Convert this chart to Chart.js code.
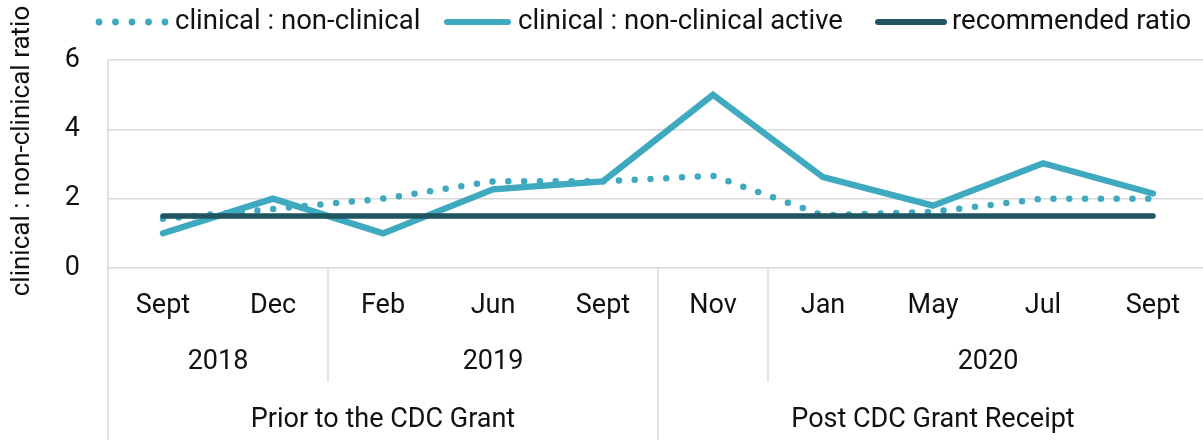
<!DOCTYPE html>
<html>
<head>
<meta charset="utf-8">
<script src="https://cdn.jsdelivr.net/npm/chart.js@4/dist/chart.umd.min.js"></script>
<style>
html,body{margin:0;padding:0;background:#fff;overflow:hidden;}
#wrap{position:relative;width:1208px;height:440px;}
</style>
</head>
<body>
<div id="wrap"><canvas id="c" width="1208" height="440"></canvas></div>
<script>
// ---- data ----
const months = ['Sept','Dec','Feb','Jun','Sept','Nov','Jan','May','Jul','Sept'];
const years = [
  {label:'2018', from:0, to:1},
  {label:'2019', from:2, to:4},
  {label:'', from:5, to:5},
  {label:'2020', from:6, to:9}
];
const periods = [
  {label:'Prior to the CDC Grant', from:0, to:4},
  {label:'Post CDC Grant Receipt', from:5, to:9}
];
const clinicalNonClinical = [1.42, 1.7, 2.0, 2.5, 2.5, 2.66, 1.52, 1.62, 2.0, 2.0];
const clinicalNonClinicalActive = [1.0, 2.0, 1.0, 2.27, 2.5, 5.0, 2.62, 1.8, 3.02, 2.15];
const recommendedRatio = [1.5, 1.5, 1.5, 1.5, 1.5, 1.5, 1.5, 1.5, 1.5, 1.5];
const yTicks = [0, 2, 4, 6];
const seriesNames = ['clinical : non-clinical', 'clinical : non-clinical active', 'recommended ratio'];
const yTitle = 'clinical : non-clinical ratio';

const TEAL = '#3FAABF';
const DARK = '#1E5561';
const GRID = '#D9D9D9';
const FONT = 'Roboto, sans-serif';
const TXT = '#111';

const custom = {
  id: 'custom',
  afterDraw(chart) {
    const ctx = chart.ctx;
    const x = chart.scales.x;
    const ca = chart.chartArea;
    const H = chart.height;
    const w = x.getPixelForValue(1) - x.getPixelForValue(0);
    const edge = i => x.getPixelForValue(i) - w / 2;
    ctx.save();
    ctx.strokeStyle = GRID;
    ctx.lineWidth = 1.5;
    ctx.beginPath(); ctx.moveTo(ca.left, ca.top); ctx.lineTo(ca.left, H); ctx.stroke();
    const yearBottom = 382;
    years.forEach((g, k) => {
      if (k === 0) return;
      const ex = edge(g.from);
      const isPeriod = periods.some(p => p.from === g.from);
      ctx.beginPath(); ctx.moveTo(ex, ca.bottom); ctx.lineTo(ex, isPeriod ? H : yearBottom); ctx.stroke();
    });
    ctx.fillStyle = TXT;
    ctx.textAlign = 'center';
    ctx.textBaseline = 'middle';
    ctx.font = '27px ' + FONT;
    months.forEach((m, i) => ctx.fillText(m, x.getPixelForValue(i), 306));
    years.forEach(g => { if (g.label) ctx.fillText(g.label, (edge(g.from) + edge(g.to + 1)) / 2, 362); });
    periods.forEach(g => ctx.fillText(g.label, (edge(g.from) + edge(g.to + 1)) / 2, 420));
    ctx.save();
    ctx.translate(22, 151);
    ctx.rotate(-Math.PI / 2);
    ctx.font = '26px ' + FONT;
    ctx.fillText(yTitle, 0, 0);
    ctx.restore();
    const ly = 22;
    ctx.textAlign = 'left';
    ctx.font = '27.5px ' + FONT;
    ctx.fillStyle = TEAL;
    for (let k = 0; k < 5; k++) { ctx.beginPath(); ctx.arc(99 + k * 16.5, ly, 3.4, 0, Math.PI * 2); ctx.fill(); }
    ctx.fillStyle = TXT;
    ctx.fillText(seriesNames[0], 175, ly);
    ctx.lineCap = 'round';
    ctx.lineWidth = 6;
    ctx.strokeStyle = TEAL;
    ctx.beginPath(); ctx.moveTo(447, ly); ctx.lineTo(508, ly); ctx.stroke();
    ctx.fillText(seriesNames[1], 518, ly);
    ctx.strokeStyle = DARK;
    ctx.beginPath(); ctx.moveTo(878, ly); ctx.lineTo(944, ly); ctx.stroke();
    ctx.fillText(seriesNames[2], 952, ly);
    ctx.restore();
  }
};

new Chart(document.getElementById('c'), {
  type: 'line',
  data: {
    labels: months,
    datasets: [
      { label: seriesNames[0], data: clinicalNonClinical, borderColor: TEAL, borderWidth: 6.5,
        borderDash: [0, 15.8], borderCapStyle: 'round', pointRadius: 0, tension: 0, order: 1 },
      { label: seriesNames[1], data: clinicalNonClinicalActive, borderColor: TEAL, borderWidth: 6.3,
        borderCapStyle: 'round', borderJoinStyle: 'miter', pointRadius: 0, tension: 0, order: 2 },
      { label: seriesNames[2], data: recommendedRatio, borderColor: DARK, borderWidth: 5.5,
        borderCapStyle: 'round', pointRadius: 0, tension: 0, order: 0 }
    ]
  },
  options: {
    responsive: false,
    animation: false,
    layout: { padding: { top: 60, left: 0, right: 0, bottom: 0 } },
    plugins: { legend: { display: false }, tooltip: { enabled: false } },
    scales: {
      x: {
        offset: true,
        grid: { display: false, drawTicks: false },
        border: { display: false },
        ticks: { display: false },
        afterFit(s) { s.height = 172; }
      },
      y: {
        min: 0, max: 6,
        afterBuildTicks(s) { s.ticks = yTicks.map(v => ({ value: v })); },
        grid: { color: GRID, lineWidth: 1.5, drawTicks: false },
        border: { display: false },
        ticks: { color: TXT, font: { family: FONT, size: 27 }, padding: 28 },
        afterFit(s) { s.width = 108; }
      }
    }
  },
  plugins: [custom]
});
</script>
</body>
</html>
